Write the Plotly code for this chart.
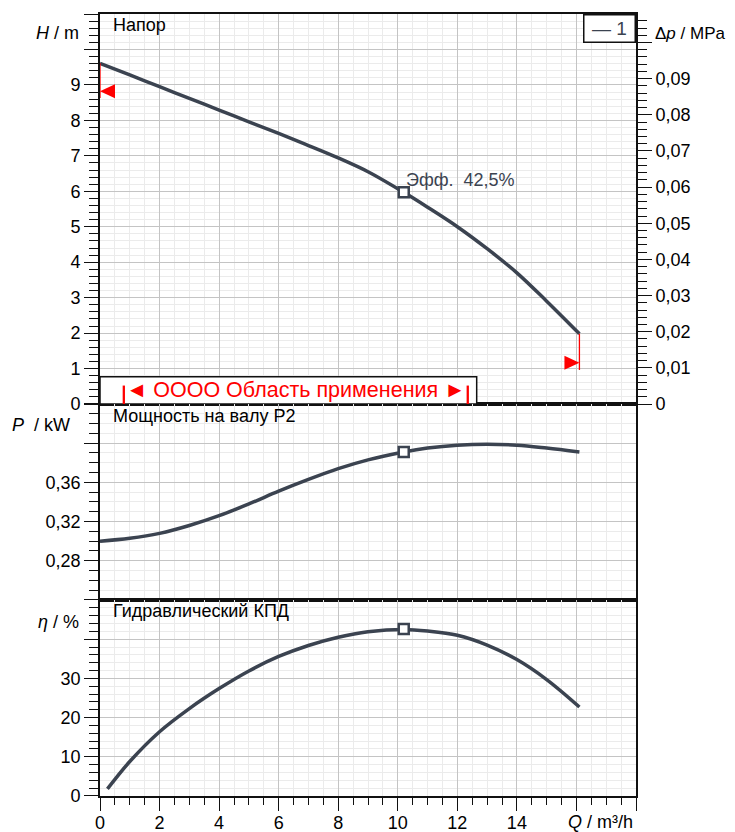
import plotly.graph_objects as go

# ---------------- data ----------------
q_h = [0, 1, 2, 3, 4, 5, 6, 7, 8, 9, 10.2, 11, 12, 13, 14, 15, 16.1]
head_m = [9.61, 9.28, 8.95, 8.62, 8.29, 7.96, 7.63, 7.29, 6.94, 6.55, 5.97, 5.55, 5.0, 4.38, 3.7, 2.9, 1.98]

q_p = [0, 1, 2, 3, 4, 5, 6, 7, 8, 9, 10.2, 11, 12, 13, 14, 15, 16.1]
power_kw = [0.300, 0.303, 0.308, 0.316, 0.326, 0.338, 0.351, 0.363, 0.374, 0.383, 0.391, 0.395, 0.398, 0.399, 0.398, 0.395, 0.391]

q_eta = [0.25, 1, 2, 3, 4, 5, 6, 7, 8, 9, 10.2, 11, 12, 13, 14, 15, 16.1]
eta_pct = [1.8, 8.8, 16.4, 22.3, 27.4, 31.9, 35.6, 38.4, 40.5, 41.9, 42.5, 42.1, 41.0, 38.5, 34.8, 29.7, 22.7]

duty_q = [10.2]
duty_h = [5.97]
duty_p = [0.391]
duty_eta = [42.6]
duty_label = "Эфф.&nbsp;&nbsp;42,5%"

# operating-range markers (flow, head)
range_left = dict(q=0.0, h_top=9.61, h_bot=8.63, h_tri=8.82)
range_right = dict(q=16.1, h_top=1.98, h_bot=0.96, h_tri=1.16)
band_q = [0.0, 12.65]
band_h = [0.0, 0.77]
band_bars_q = [0.8, 12.35]
band_text = "◄ OOOO Область применения ►"

x_tickvals = [0, 2, 4, 6, 8, 10, 12, 14, 16, 18]
x_ticktext = ["0", "2", "4", "6", "8", "10", "12", "14", "", ""]
h_tickvals = [0, 1, 2, 3, 4, 5, 6, 7, 8, 9, 10, 11]
h_ticktext = ["0", "1", "2", "3", "4", "5", "6", "7", "8", "9", "", ""]
dp_tickvals = [0, 0.01, 0.02, 0.03, 0.04, 0.05, 0.06, 0.07, 0.08, 0.09, 0.10]
dp_ticktext = ["0", "0,01", "0,02", "0,03", "0,04", "0,05", "0,06", "0,07", "0,08", "0,09", ""]
p_tickvals = [0.24, 0.28, 0.32, 0.36, 0.40, 0.44]
p_ticktext = ["", "0,28", "0,32", "0,36", "", ""]
eta_tickvals = [0, 10, 20, 30, 40, 50]
eta_ticktext = ["0", "10", "20", "30", "", ""]

H_MAX = 11.0
M_PER_MPA = 101.972

# ---------------- style ----------------
FONT = "Liberation Sans, Arial, sans-serif"
CURVE = "#3b4350"
GRID_MAJ = "#c4c4c4"
GRID_MIN = "#ebebeb"
AX = "#111111"

fig = go.Figure()

line_style = dict(color=CURVE, width=3.5, shape="spline", smoothing=1.0)
marker_style = dict(symbol="square", size=10, color="white", line=dict(color=CURVE, width=2.5))

fig.add_trace(go.Scatter(x=q_h, y=head_m, xaxis="x", yaxis="y", mode="lines", line=line_style, showlegend=False))
fig.add_trace(go.Scatter(x=q_p, y=power_kw, xaxis="x2", yaxis="y2", mode="lines", line=line_style, showlegend=False))
fig.add_trace(go.Scatter(x=q_eta, y=eta_pct, xaxis="x3", yaxis="y3", mode="lines", line=line_style, showlegend=False))
fig.add_trace(go.Scatter(x=duty_q, y=duty_h, xaxis="x", yaxis="y", mode="markers", marker=marker_style, showlegend=False))
fig.add_trace(go.Scatter(x=duty_q, y=duty_p, xaxis="x2", yaxis="y2", mode="markers", marker=marker_style, showlegend=False))
fig.add_trace(go.Scatter(x=duty_q, y=duty_eta, xaxis="x3", yaxis="y3", mode="markers", marker=marker_style, showlegend=False))
# invisible trace so the pressure (MPa) axis is drawn
fig.add_trace(go.Scatter(x=q_h, y=[h / M_PER_MPA for h in head_m], xaxis="x", yaxis="y4", mode="lines",
                         line=dict(color="rgba(0,0,0,0)", width=0), hoverinfo="skip", showlegend=False))

d_bot = [0, 0.25064]
d_mid = [0.25064, 0.50128]
d_top = [0.50128, 1.0]

def xgrid(**kw):
    base = dict(range=[0, 18], showgrid=True, gridcolor=GRID_MAJ, gridwidth=1.3,
                tickmode="array", tickvals=x_tickvals, ticktext=x_ticktext,
                minor=dict(tickmode="linear", tick0=0, dtick=0.5, showgrid=True,
                           gridcolor=GRID_MIN, gridwidth=1.2),
                showline=True, mirror=True, linecolor=AX, linewidth=1.8,
                zeroline=False, automargin=False)
    base.update(kw)
    return base

def ygrid(**kw):
    base = dict(showgrid=True, gridcolor=GRID_MAJ, gridwidth=1.3, zeroline=False,
                showline=True, mirror=True, linecolor=AX, linewidth=1.8,
                ticks="outside", ticklen=14, tickwidth=1.4, tickcolor=AX, automargin=False,
                tickfont=dict(size=18, color="black", family=FONT))
    base.update(kw)
    return base

# page body has an 8px margin: shift the figure so the plot area lands where the reference has it
fig.update_layout(
    width=727, height=824, autosize=False,
    margin=dict(l=92, r=99, t=6, b=36, pad=0, autoexpand=False),
    plot_bgcolor="white", paper_bgcolor="white",
    font=dict(family=FONT, size=18, color="black"),
    xaxis=xgrid(domain=[0, 1], anchor="y", matches="x3", showticklabels=False, ticks=""),
    xaxis2=xgrid(domain=[0, 1], anchor="y2", matches="x3", showticklabels=False, ticks=""),
    xaxis3=xgrid(domain=[0, 1], anchor="y3", ticks="outside", ticklen=13, tickwidth=1.4, tickcolor=AX,
                 ticklabelstandoff=-4,
                 tickfont=dict(size=18, color="black", family=FONT),
                 minor=dict(tickmode="linear", tick0=0, dtick=0.5, showgrid=True, gridcolor=GRID_MIN,
                            gridwidth=1.2, ticks="outside", ticklen=7, tickwidth=1.4, tickcolor=AX)),
    yaxis=ygrid(domain=d_top, anchor="x", range=[0, H_MAX], tickmode="array",
                tickvals=h_tickvals, ticktext=h_ticktext,
                minor=dict(tickmode="linear", tick0=0, dtick=0.2, showgrid=True, gridcolor=GRID_MIN,
                           gridwidth=1.2, ticks="outside", ticklen=9, tickwidth=1.4, tickcolor=AX)),
    yaxis4=dict(overlaying="y", side="right", anchor="x", range=[0, H_MAX / M_PER_MPA],
                showgrid=False, zeroline=False, showline=True, linecolor=AX, linewidth=1.8,
                tickmode="array", tickvals=dp_tickvals, ticktext=dp_ticktext, automargin=False,
                ticks="outside", ticklen=14, tickwidth=1.4, tickcolor=AX,
                tickfont=dict(size=18, color="black", family=FONT),
                minor=dict(tickmode="linear", tick0=0, dtick=0.002, ticks="outside", ticklen=9,
                           tickwidth=1.4, tickcolor=AX, showgrid=False)),
    yaxis2=ygrid(domain=d_mid, anchor="x2", range=[0.24, 0.44], tickmode="array",
                 tickvals=p_tickvals, ticktext=p_ticktext,
                 minor=dict(tickmode="linear", tick0=0, dtick=0.01, showgrid=True, gridcolor=GRID_MIN,
                            gridwidth=1.2, ticks="outside", ticklen=9, tickwidth=1.4, tickcolor=AX)),
    yaxis3=ygrid(domain=d_bot, anchor="x3", range=[0, 50], tickmode="array",
                 tickvals=eta_tickvals, ticktext=eta_ticktext,
                 minor=dict(tickmode="linear", tick0=0, dtick=2, showgrid=True, gridcolor=GRID_MIN,
                            gridwidth=1.2, ticks="outside", ticklen=9, tickwidth=1.4, tickcolor=AX)),
)

def px_x(px):
    return (px - 100) / 536.0

def px_y(py):
    return (796 - py) / 782.0

ann = []
def add_text(text, x, y, xanchor, size=18, color="black", xref="paper", yref="paper", yanchor="middle"):
    ann.append(dict(text=text, x=x, y=y, xref=xref, yref=yref, xanchor=xanchor, yanchor=yanchor,
                    showarrow=False, font=dict(size=size, color=color, family=FONT)))

add_text("<i>H</i> / m", px_x(81), px_y(33), "right")
add_text("Δ<i>p</i> / MPa", px_x(653), px_y(34), "left", size=17)
add_text("<i>P</i>&nbsp; / kW", px_x(72), px_y(425), "right")
add_text("<i>η</i> / %", px_x(81), px_y(622), "right")
add_text("<i>Q</i> / m³/h", px_x(635), px_y(822), "right")
add_text("Напор", px_x(111), px_y(25), "left")
add_text("Мощность на валу P2", px_x(111), px_y(416), "left")
add_text("Гидравлический КПД", px_x(111), px_y(611), "left")
add_text(duty_label, duty_q[0] + 0.02, duty_h[0] + 0.34, "left", size=18, color=CURVE, xref="x", yref="y")
add_text(band_text, (band_bars_q[0] + band_bars_q[1]) / 2, 0.40, "center", size=21.5, color="red",
         xref="x", yref="y")

ann.append(dict(text="— 1", x=1, y=1, xref="x domain", yref="y domain", xanchor="right", yanchor="top",
                showarrow=False, font=dict(size=19, color=CURVE, family=FONT),
                bordercolor=AX, borderwidth=1.5, bgcolor="white", borderpad=1, width=48, height=24))
fig.update_layout(annotations=ann)

shapes = []
# application band box
shapes.append(dict(type="rect", xref="x", yref="y", x0=band_q[0], x1=band_q[1], y0=band_h[0], y1=band_h[1],
                   fillcolor="white", line=dict(color=AX, width=1.5), layer="above"))
for bq in band_bars_q:
    shapes.append(dict(type="line", xref="x", yref="y", x0=bq, x1=bq, y0=0.0, y1=0.52,
                       line=dict(color="red", width=2.3), layer="above"))
# operating range limits
for r, direction in ((range_left, 1), (range_right, -1)):
    shapes.append(dict(type="line", xref="x", yref="y", x0=r["q"], x1=r["q"], y0=r["h_bot"], y1=r["h_top"],
                       line=dict(color="red", width=1.3), layer="above"))
    shapes.append(dict(type="path", xref="x", yref="y", xsizemode="pixel", ysizemode="pixel",
                       xanchor=r["q"], yanchor=r["h_tri"],
                       path="M0,0 L%d,7 L%d,-7 Z" % (15 * direction, 15 * direction),
                       fillcolor="red", line=dict(width=0), layer="above"))
fig.update_layout(shapes=shapes)

fig.write_html("out.html")
